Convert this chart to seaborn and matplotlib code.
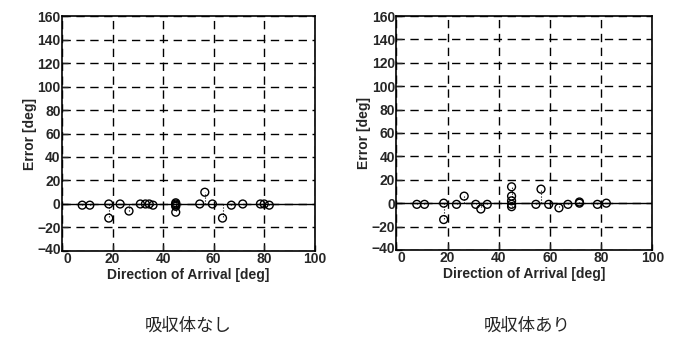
import matplotlib
matplotlib.use("Agg")
import matplotlib.pyplot as plt
import matplotlib.transforms as mtrans
import numpy as np
import pandas as pd
import seaborn as sns

# direction of arrival [deg] and estimated error [deg]
doaLeft = [8, 11, 18.5, 18.5, 23, 26.5, 31, 33, 34.5, 36,
           45, 45, 45, 45, 45, 54.5, 56.5, 59.5, 63.5, 67,
           71.5, 78.5, 80, 82]
errLeft = [-1, -1, 0, -12, 0, -6, 0, 0, 0, -1,
           1, 0, -1, -2, -7, 0, 10, 0, -12, -1,
           0, 0, 0, -1]

doaRight = [8, 11, 18.5, 18.5, 23.5, 26.5, 31, 33, 35.5,
            45, 45, 45, 45, 45, 54.5, 56.5, 59.5, 63.5, 67,
            71.5, 71.5, 78.5, 82]
errRight = [-1, -1, 0, -14, -1, 6, -1, -5, -1,
            14, 6, 2, -1, -3, -1, 12, -1, -4, -1,
            0, 1, -1, 0]

captions = ["吸収体なし", "吸収体あり"]
xTicks = [0, 20, 40, 60, 80, 100]
yTicks = [-40, -20, 0, 20, 40, 60, 80, 100, 120, 140, 160]

sns.set_style("ticks")
plt.rcParams['font.family'] = ['Liberation Sans', 'DejaVu Sans']
fs = 10


def stemPanel(fig, ax, doa, err):
    df = pd.DataFrame({'doa': doa, 'err': err})
    ax.vlines(df.doa, 0, df.err, colors='k', linestyles=':', linewidth=0.8, zorder=3)
    ax.axhline(0, color='k', linewidth=1.0, zorder=2)
    sns.scatterplot(data=df, x='doa', y='err', ax=ax, marker='o', s=32,
                    facecolor='none', edgecolor='k', linewidth=1.0, zorder=4)
    ax.set_xlim(0, 100)
    ax.set_ylim(-40, 160)
    ax.set_xticks(xTicks)
    ax.set_yticks(yTicks)
    ax.grid(True, color='k', linestyle=(0, (6, 4)), linewidth=1.0)
    ax.tick_params(direction='in', length=4, width=1, labelsize=fs, pad=1)
    for lbl in ax.get_xticklabels() + ax.get_yticklabels():
        lbl.set_fontweight('bold')
    # corner labels: nudge "0" right and "-40" up a little, as in the scan
    x0 = ax.get_xticklabels()[0]
    x0.set_transform(x0.get_transform() + mtrans.ScaledTranslation(4 / 72, 0, fig.dpi_scale_trans))
    y0 = ax.get_yticklabels()[0]
    y0.set_transform(y0.get_transform() + mtrans.ScaledTranslation(0, 2 / 72, fig.dpi_scale_trans))
    for sp in ax.spines.values():
        sp.set_linewidth(1.2)
        sp.set_color('k')
    ax.set_xlabel('Direction of Arrival [deg]', fontsize=fs, fontweight='bold', labelpad=1)
    ax.set_ylabel('Error [deg]', fontsize=fs, fontweight='bold', labelpad=0)


fig = plt.figure(figsize=(6.74, 3.41), dpi=100)
axL = fig.add_axes([0.092, 0.264, 0.375, 0.689])
axR = fig.add_axes([0.588, 0.267, 0.380, 0.686])
stemPanel(fig, axL, doaLeft, errLeft)
stemPanel(fig, axR, doaRight, errRight)

fig.text(0.279, 0.045, captions[0], ha='center', va='center', fontsize=12.5,
         family=['Noto Sans CJK JP', 'DejaVu Sans'])
fig.text(0.782, 0.045, captions[1], ha='center', va='center', fontsize=12.5,
         family=['Noto Sans CJK JP', 'DejaVu Sans'])

fig.savefig('out.png', dpi=100)
